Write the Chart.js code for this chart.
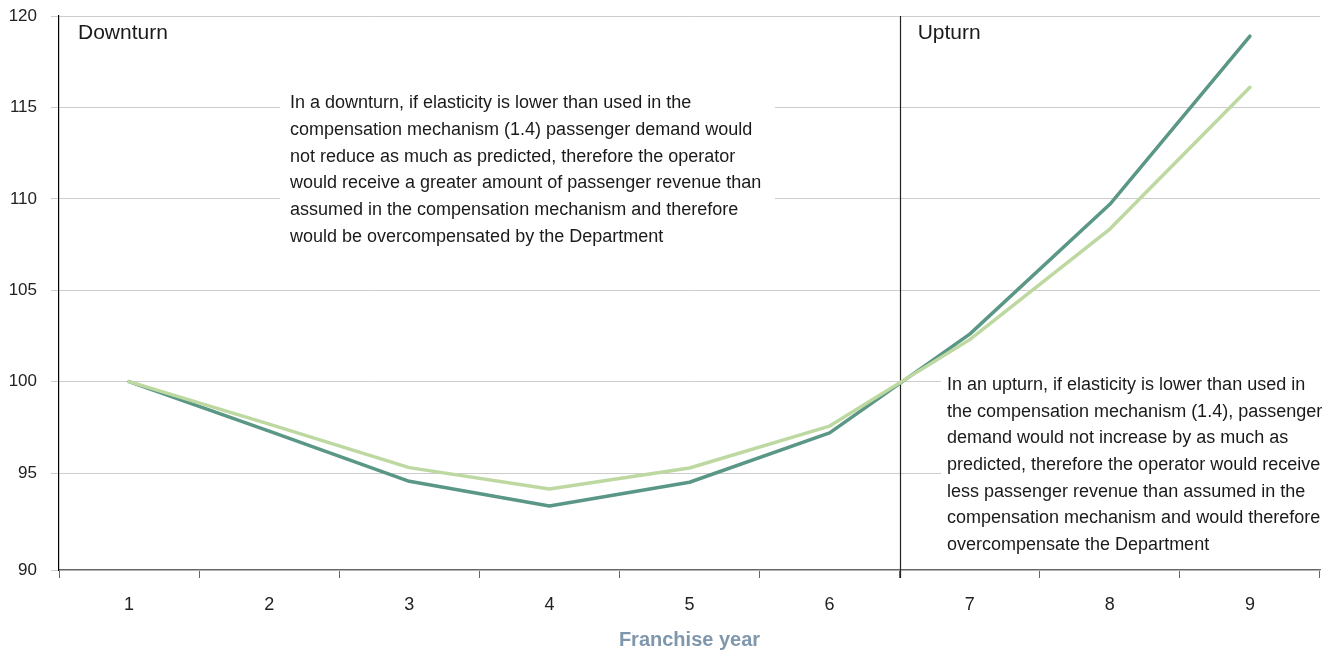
<!DOCTYPE html>
<html>
<head>
<meta charset="utf-8">
<script src="https://cdn.jsdelivr.net/npm/chart.js@4.4.0/dist/chart.umd.min.js"></script>
<style>
html,body{margin:0;padding:0;background:#fff;}
#wrap{width:1333px;height:652px;position:relative;}
</style>
</head>
<body>
<div id="wrap"><canvas id="c" width="1333" height="652"></canvas></div>
<script>
const categories = ['1','2','3','4','5','6','7','8','9'];
const seriesDark = [100, 97.3, 94.55, 93.2, 94.5, 97.2, 102.6, 109.7, 118.9];
const seriesLight = [100, 97.68, 95.3, 94.13, 95.28, 97.57, 102.3, 108.35, 116.1];
const yAxisMin = 89.7;   // axis crosses slightly below 90 in the original
const yAxisMax = 120;
const yTickValues = [89.7, 95, 100, 105, 110, 115, 120];
const yTickLabels = ['90', '95', '100', '105', '110', '115', '120'];
const dividerBetween = [5, 6]; // indexes between which the vertical line sits
const downturnText = [
  'In a downturn, if elasticity is lower than used in the',
  'compensation mechanism (1.4) passenger demand would',
  'not reduce as much as predicted, therefore the operator',
  'would receive a greater amount of passenger revenue than',
  'assumed in the compensation mechanism and therefore',
  'would be overcompensated by the Department'
];
const upturnText = [
  'In an upturn, if elasticity is lower than used in',
  'the compensation mechanism (1.4), passenger',
  'demand would not increase by as much as',
  'predicted, therefore the operator would receive',
  'less passenger revenue than assumed in the',
  'compensation mechanism and would therefore',
  'overcompensate the Department'
];

const FONT = '"Liberation Sans", Arial, Helvetica, sans-serif';

const annot = {
  id: 'annot',
  beforeDatasetsDraw(chart) {
    const ctx = chart.ctx, ca = chart.chartArea;
    const x = chart.scales.x;
    const vx = (x.getPixelForValue(dividerBetween[0]) + x.getPixelForValue(dividerBetween[1])) / 2;
    ctx.save();
    ctx.fillStyle = '#fff';
    ctx.fillRect(280, 88, 495, 162);
    ctx.fillRect(941, 370, ca.right - 941 + 1, 190);
    ctx.strokeStyle = '#222';
    ctx.lineWidth = 1.2;
    ctx.beginPath();
    ctx.moveTo(Math.round(vx) + 0.5, ca.top);
    ctx.lineTo(Math.round(vx) + 0.5, ca.bottom + 8);
    ctx.stroke();
    ctx.fillStyle = '#1a1a1a';
    ctx.textBaseline = 'middle';
    ctx.textAlign = 'left';
    ctx.font = '21px ' + FONT;
    ctx.fillText('Downturn', 78, 33);
    ctx.fillText('Upturn', vx + 18, 33);
    ctx.font = '18px ' + FONT;
    downturnText.forEach((t, i) => ctx.fillText(t, 290, 103 + i * 26.8));
    upturnText.forEach((t, i) => ctx.fillText(t, 947, 385 + i * 26.7));
    ctx.restore();
  }
};

new Chart(document.getElementById('c'), {
  type: 'line',
  data: {
    labels: categories,
    datasets: [
      { label: 'Light', data: seriesLight, borderColor: '#bdd9a1', borderWidth: 3.5, pointRadius: 0, tension: 0, borderCapStyle: 'round', borderJoinStyle: 'round' },
      { label: 'Dark', data: seriesDark, borderColor: '#5b9786', borderWidth: 3.5, pointRadius: 0, tension: 0, borderCapStyle: 'round', borderJoinStyle: 'round' }
    ]
  },
  options: {
    responsive: false,
    animation: false,
    layout: { padding: { top: 16, right: 13, left: 0, bottom: 0 } },
    plugins: { legend: { display: false }, tooltip: { enabled: false } },
    scales: {
      x: {
        offset: true,
        grid: { offset: true, drawOnChartArea: false, drawTicks: true, tickLength: 8, color: '#666' },
        border: { color: '#666', width: 1.2 },
        ticks: { color: '#222', font: { family: FONT, size: 18 }, padding: 16, maxRotation: 0 },
        title: { display: true, text: 'Franchise year', color: '#7f97ad', font: { family: FONT, size: 20, weight: 'bold' }, padding: { top: 10, bottom: 0 } },
        afterFit(s) { s.height = 82; }
      },
      y: {
        min: yAxisMin, max: yAxisMax,
        afterBuildTicks(s) { s.ticks = yTickValues.map(v => ({ value: v })); },
        grid: { color: '#cccccc', lineWidth: 1, tickLength: 8 },
        border: { color: '#000', width: 1.2 },
        ticks: {
          color: '#222', font: { family: FONT, size: 17 }, padding: 14,
          callback(v, i) { return yTickLabels[i]; }
        },
        afterFit(s) { s.width = 59; s.paddingTop = 0; s.paddingBottom = 0; }
      }
    }
  },
  plugins: [annot]
});
</script>
</body>
</html>
